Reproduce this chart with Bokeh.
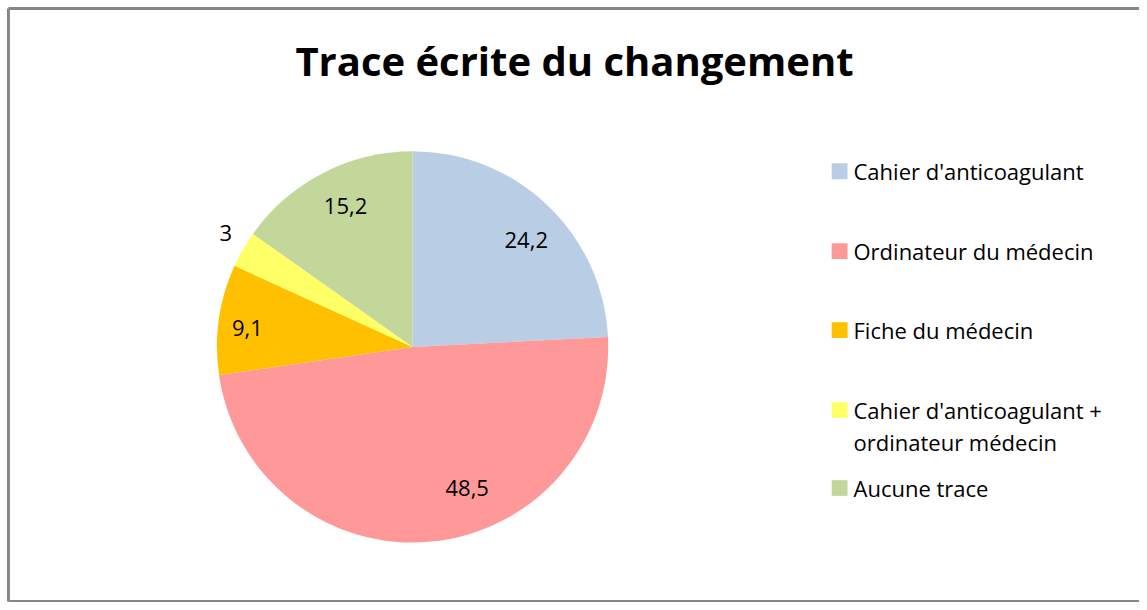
import math
from bokeh.plotting import figure
from bokeh.models import Range1d, ColumnDataSource
from bokeh.core.properties import value
from bokeh.embed import file_html
from bokeh.resources import INLINE

# ---- data ----
categories = ["Cahier d'anticoagulant", "Ordinateur du médecin", "Fiche du médecin",
              "Cahier d'anticoagulant +\nordinateur médecin", "Aucune trace"]
values = [24.2, 48.5, 9.1, 3.0, 15.2]
labels = ["24,2", "48,5", "9,1", "3", "15,2"]
colors = ["#B9CDE5", "#FF9999", "#FFC000", "#FFFF66", "#C4D79B"]
title = "Trace écrite du changement"

# ---- layout / style ----
W, H = 1139, 602          # figure size in pixels
VW, VH = 1147, 610        # virtual canvas units
cx, cy, R = 415, 259, 197
label_rf = [0.80, 0.78, 0.85, 1.12, 0.80]      # radial position of labels
label_da = [-3.0, 15.4, 1.6, -1.6, -2.0]       # angular nudge (deg) of labels
FONT = "Open Sans"
BORDER = "#868686"

p = figure(width=W, height=H, output_backend="svg", toolbar_location=None,
           x_range=Range1d(0, VW), y_range=Range1d(0, VH), min_border=0)
p.axis.visible = False
p.grid.visible = False
p.background_fill_color = "white"
p.border_fill_color = "white"
p.outline_line_color = None

# chart border (left, top, bottom; right side runs off the canvas)
p.multi_line(xs=[[8, 8], [8, VW + 5], [8, VW + 5]], ys=[[1, 602], [602, 602], [1, 1]],
             line_color=BORDER, line_width=3)

total = sum(values)
starts, ends, lx, ly = [], [], [], []
cum = 0.0
for v, rf, da in zip(values, label_rf, label_da):
    a0 = math.pi / 2 - 2 * math.pi * cum / total
    a1 = math.pi / 2 - 2 * math.pi * (cum + v) / total
    starts.append(a1)
    ends.append(a0)
    mid = (a0 + a1) / 2 + math.radians(da)
    lx.append(cx + rf * R * math.cos(mid))
    ly.append(cy + rf * R * math.sin(mid))
    cum += v

src = ColumnDataSource(dict(start=starts, end=ends, color=colors, lx=lx, ly=ly, lab=labels))
p.wedge(x=cx, y=cy, radius=R, start_angle="start", end_angle="end", color="color",
        line_color=None, direction="anticlock", source=src)
p.text(x="lx", y="ly", text="lab", source=src, text_align="center", text_baseline="middle",
       text_font=value(FONT), text_font_size="22px", text_color="black")

# title
p.text(x=[578], y=[VH - 61], text=[title], text_align="center", text_baseline="middle",
       text_font=value(FONT), text_font_size="40px", text_font_style="bold", text_color="black")

# legend
leg_y = [437, 356, 276, 195, 116]
line_gap = 32
p.rect(x=[845] * len(categories), y=leg_y, width=16, height=16, color=colors, line_color=None)
tx, ty, tt = [], [], []
for cat, y in zip(categories, leg_y):
    for k, line in enumerate(cat.split("\n")):
        tx.append(859)
        ty.append(y - k * line_gap)
        tt.append(line)
p.text(x=tx, y=ty, text=tt, text_align="left", text_baseline="middle",
       text_font=value(FONT), text_font_size="22px", text_color="black")

open("out.html", "w").write(file_html(p, INLINE))
